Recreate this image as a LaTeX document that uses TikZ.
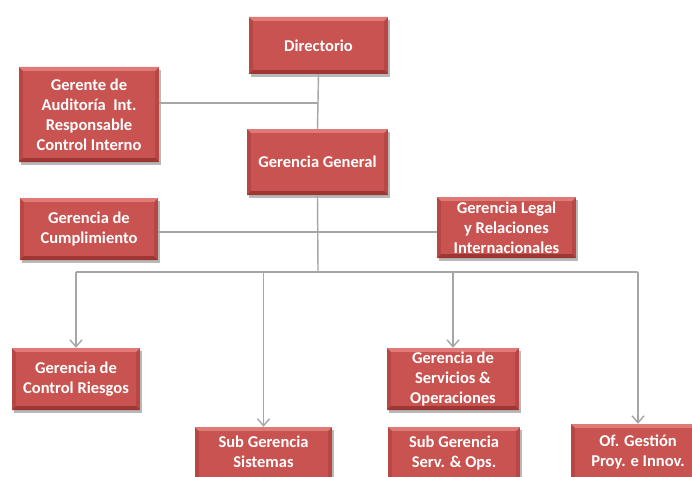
\documentclass[tikz,border=0pt]{standalone}
\usepackage{fontspec}
\setmainfont{Carlito}
\usetikzlibrary{arrows.meta,shadows}
\definecolor{boxmain}{RGB}{201,83,80}
\definecolor{bevtop}{RGB}{224,122,119}
\definecolor{bevside}{RGB}{184,70,67}
\definecolor{bevbot}{RGB}{158,54,52}
\definecolor{linegray}{RGB}{166,166,166}
\tikzset{
  orgbox/.style={draw=none, fill=bevside, text=white, align=center, inner sep=2pt,
    font=\bfseries\fontsize{16.5}{20}\selectfont,
    drop shadow={shadow xshift=2pt, shadow yshift=-3pt, fill=black!55, opacity=.5},
    path picture={
      \fill[bevtop] (path picture bounding box.north west) -- (path picture bounding box.north east)
        -- ([shift={(-4pt,-4pt)}]path picture bounding box.north east)
        -- ([shift={(4pt,-4pt)}]path picture bounding box.north west) -- cycle;
      \fill[bevbot] (path picture bounding box.south west) -- (path picture bounding box.south east)
        -- ([shift={(-4pt,4pt)}]path picture bounding box.south east)
        -- ([shift={(4pt,4pt)}]path picture bounding box.south west) -- cycle;
      \fill[boxmain] ([shift={(4pt,-4pt)}]path picture bounding box.north west)
        rectangle ([shift={(-4pt,4pt)}]path picture bounding box.south east);
    }},
  conn/.style={draw=linegray, line width=1.4pt},
  arr/.style={conn, -{Straight Barb[length=7pt,width=12pt]}}
}
\begin{document}
\begin{tikzpicture}[x=1pt,y=-1pt]
\useasboundingbox (0,0) rectangle (692,476);
\clip (0,0) rectangle (692,476);
\fill[white] (0,0) rectangle (692,476);
\coordinate (j1) at (318,103);
\coordinate (j2) at (318,232);
\coordinate (bus) at (318,272);

\node[orgbox, minimum width=139pt, minimum height=57pt] (dir) at (318.5,45.5) {Directorio};
\node[orgbox, minimum width=140pt, minimum height=95pt] (aud) at (89,114.5) {Gerente de\\Auditoría~~Int.\\Responsable\\Control Interno};
\node[orgbox, minimum width=141pt, minimum height=66pt] (gg) at (317.5,162) {Gerencia General};
\node[orgbox, minimum width=138pt, minimum height=62pt] (cum) at (89,229) {Gerencia de\\Cumplimiento};
\node[orgbox, minimum width=139pt, minimum height=61pt] (leg) at (506.5,227.5) {Gerencia Legal\\y Relaciones\\Internacionales};
\node[orgbox, minimum width=128pt, minimum height=62pt] (rie) at (76,379) {Gerencia de\\Control Riesgos};
\node[orgbox, minimum width=132pt, minimum height=62pt] (ser) at (453,379) {Gerencia de\\Servicios \&\\Operaciones};
\node[orgbox, minimum width=137pt, minimum height=70pt] (sis) at (263.5,462) {Sub Gerencia\\Sistemas\\\mbox{}};
\node[orgbox, minimum width=132pt, minimum height=70pt] (sso) at (454,462) {Sub Gerencia\\Serv. \& Ops.\\\mbox{}};
\node[orgbox, minimum width=134pt, minimum height=74pt] (ofg) at (638,461) {Of. Gestión\\Proy. e Innov.\\\mbox{}};

\draw[conn] (dir.south) -- (gg.north);
\draw[conn] (aud.east |- j1) -- (j1);
\draw[conn] (cum.east |- j2) -- (leg.west |- j2);
\draw[conn] (gg.south) -- (bus);
\draw[conn] (rie.north |- bus) -- (ofg.north |- bus);
\draw[arr] (rie.north |- bus) -- (rie.north);
\draw[arr] (sis.north |- bus) -- (sis.north);
\draw[arr] (ser.north |- bus) -- (ser.north);
\draw[arr] (ofg.north |- bus) -- (ofg.north);
\end{tikzpicture}
\end{document}
